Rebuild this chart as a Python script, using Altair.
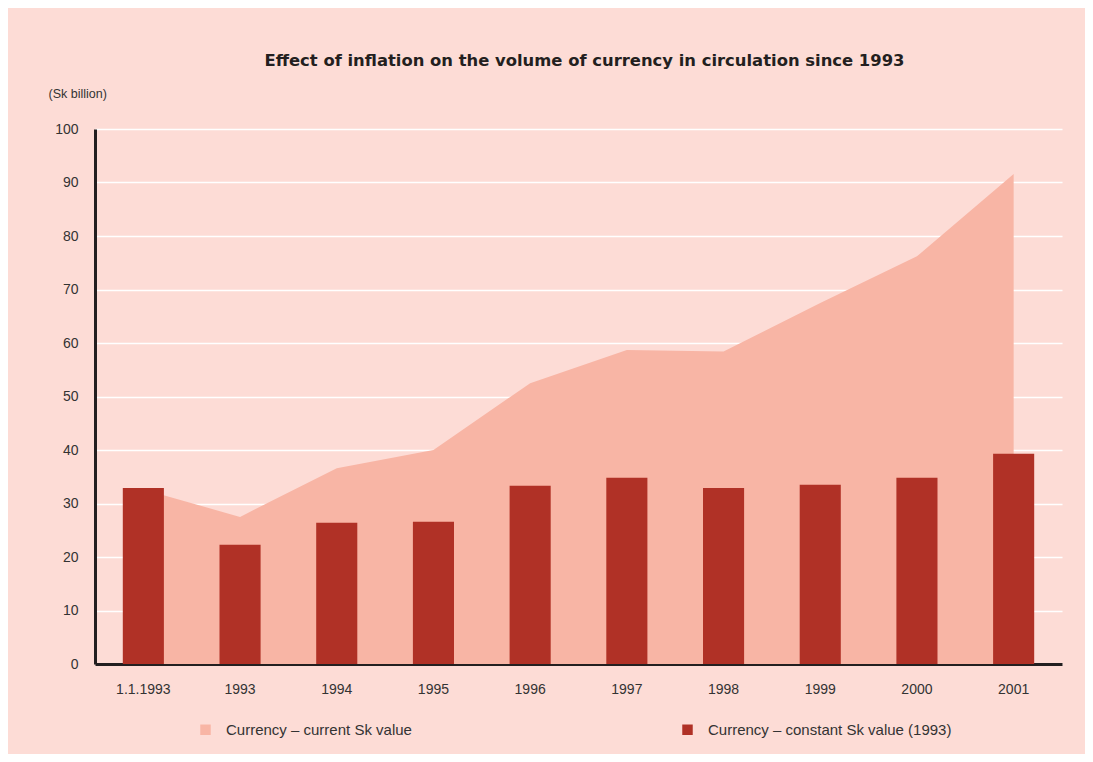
import altair as alt
import pandas as pd

categories = ["1.1.1993", "1993", "1994", "1995", "1996", "1997", "1998", "1999", "2000", "2001"]
current_value = [32.6, 27.5, 36.6, 40.0, 52.5, 58.7, 58.4, 67.5, 76.2, 91.6]
constant_value = [32.9, 22.3, 26.4, 26.6, 33.3, 34.8, 32.9, 33.5, 34.8, 39.3]
series_names = ["Currency \u2013 current Sk value", "Currency \u2013 constant Sk value (1993)"]
series_colors = ["#F8B5A5", "#B03126"]

rows = []
for c, v in zip(categories, current_value):
    rows.append({"cat": c, "value": v, "series": series_names[0]})
for c, v in zip(categories, constant_value):
    rows.append({"cat": c, "value": v, "series": series_names[1]})
df = pd.DataFrame(rows)

FONT = "Liberation Sans"

x_enc = alt.X("cat:N", sort=categories,
              scale=alt.Scale(paddingInner=0.575, paddingOuter=0.2875),
              axis=alt.Axis(title=None, labelAngle=0, labelFontSize=14, labelColor="#333333",
                            labelPadding=18, ticks=False, domainColor="#231F20", domainWidth=3,
                            grid=False, labelFont=FONT))
y_enc = alt.Y("value:Q", scale=alt.Scale(domain=[0, 100], nice=False),
              axis=alt.Axis(values=list(range(0, 101, 10)), title="(Sk billion)", titleAngle=0,
                            titleAlign="left", titleBaseline="middle", titleX=-47, titleY=-36,
                            titleFontSize=12.5, titleFontWeight="normal", titleColor="#333333",
                            titleFont=FONT, labelFont=FONT,
                            labelFontSize=14, labelColor="#333333", labelPadding=17, ticks=False,
                            domainColor="#231F20", domainWidth=3, grid=True, gridColor="#FFFFFF",
                            gridWidth=1.5))
color_enc = alt.Color("series:N", scale=alt.Scale(domain=series_names, range=series_colors),
                      legend=alt.Legend(title=None, orient="none", direction="horizontal",
                                        legendX=103, legendY=593, symbolType="square",
                                        symbolSize=110, symbolStrokeWidth=0, labelFontSize=15,
                                        labelColor="#333333", labelFont=FONT, columnPadding=268,
                                        labelOffset=13, symbolOpacity=1, labelLimit=500))

base = alt.Chart(df)
area = base.transform_filter(alt.datum.series == series_names[0]).mark_area(opacity=1).encode(
    x=x_enc, y=y_enc, color=color_enc)
bars = base.transform_filter(alt.datum.series == series_names[1]).mark_bar().encode(
    x=x_enc, y=y_enc, color=color_enc)

chart = alt.layer(area, bars).properties(
    width=967, height=535,
    title=alt.TitleParams("Effect of inflation on the volume of currency in circulation since 1993",
                          fontSize=16.4, fontWeight="bold", font="DejaVu Sans", color="#231F20",
                          anchor="middle", frame="group", offset=18, dx=6),
    autosize=alt.AutoSizeParams(type="none"),
    padding={"left": 87, "top": 121, "right": 23, "bottom": 90},
).configure(background="#FDDCD6").configure_view(stroke=None)

chart.save("out.html", embed_options={"renderer": "svg", "actions": False})
